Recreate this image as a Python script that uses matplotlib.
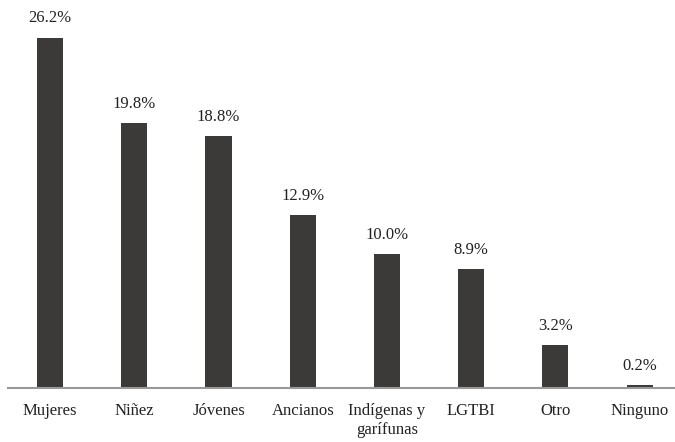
import matplotlib.pyplot as plt

plt.rcParams['font.family'] = ['Liberation Serif', 'DejaVu Serif']

categories = ["Mujeres", "Niñez", "Jóvenes", "Ancianos", "Indígenas y\ngarífunas",
              "LGTBI", "Otro", "Ninguno"]
values = [26.2, 19.8, 18.8, 12.9, 10.0, 8.9, 3.2, 0.2]

fig = plt.figure(figsize=(6.75, 4.42), dpi=100)
ax = fig.add_axes([8 / 675, 54.5 / 442, 667 / 675, 374 / 442])

x = range(len(categories))
bars = ax.bar(x, values, width=0.31, color='#3b3a39')

for xi, v in zip(x, values):
    ax.annotate(f"{v:.1f}%", (xi, v), xytext=(0, 8), textcoords='offset points',
                ha='center', va='bottom', fontsize=12, color='#222222')

ax.set_xlim(-0.5, 7.42)
ax.set_ylim(0, 28)
ax.set_xticks(list(x))
ax.set_xticklabels(categories, fontsize=12, color='#222222', linespacing=1.3)
ax.tick_params(axis='x', length=0, pad=11)
ax.set_yticks([])

for s in ['top', 'right', 'left']:
    ax.spines[s].set_visible(False)
ax.spines['bottom'].set_color('#999999')
ax.spines['bottom'].set_linewidth(1.5)

fig.savefig('out.png', dpi=100)
